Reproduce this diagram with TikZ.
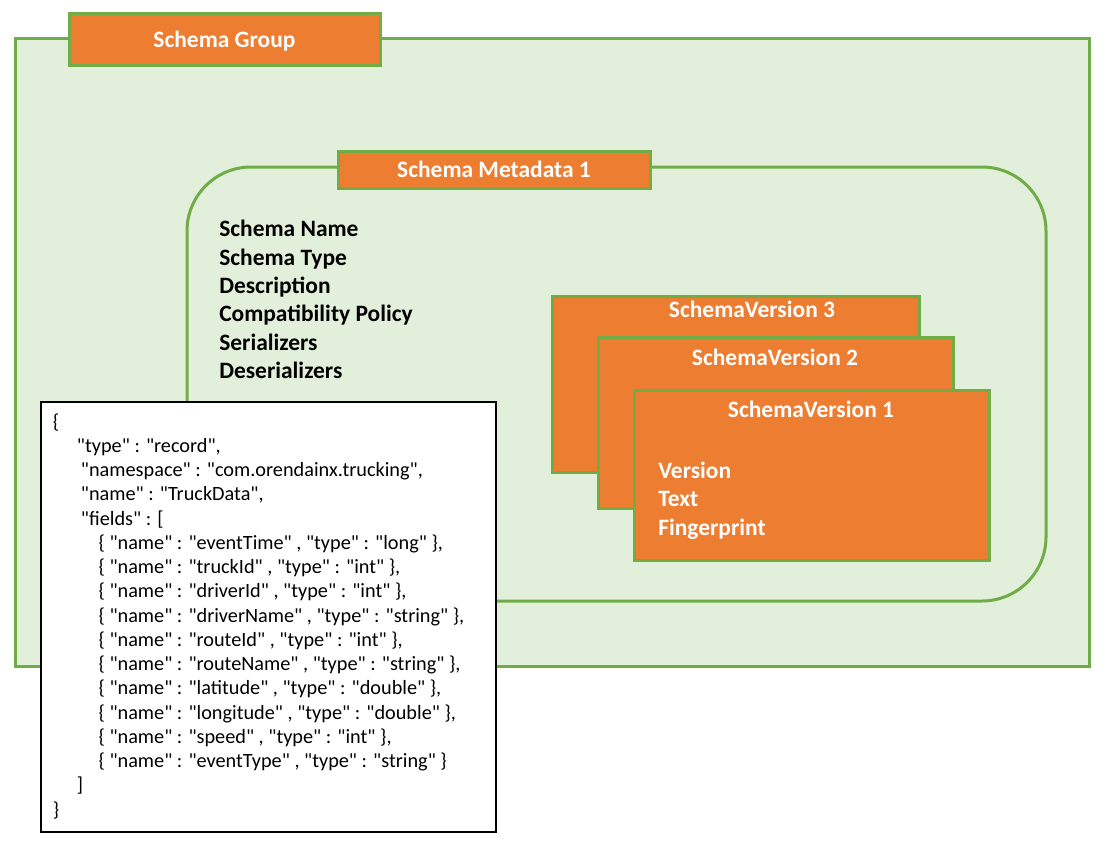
\documentclass[tikz,border=0pt]{standalone}
\usepackage{fontspec}
\setmainfont{Carlito}[Ligatures=TeXOff]
\definecolor{og}{HTML}{ED7D31}
\definecolor{gr}{HTML}{70AD47}
\definecolor{lg}{HTML}{E2EFDA}
\begin{document}
\begin{tikzpicture}[x=0.75pt,y=-0.75pt,
  panel/.style={draw=gr, fill=lg, line width=2.25pt, inner sep=0pt, outer sep=0pt},
  hdr/.style={draw=gr, fill=og, line width=2.25pt, text=white, inner sep=0pt, outer sep=0pt,
    font=\bfseries\fontsize{17.6}{20}\selectfont, text height=11.3pt, text depth=0pt},
  ver/.style={draw=gr, fill=og, line width=2.25pt, inner sep=0pt, outer sep=0pt},
  vtitle/.style={anchor=base, inner sep=0pt, text=white, font=\bfseries\fontsize{17.6}{20}\selectfont},
  item/.style={anchor=base west, inner sep=0pt, font=\bfseries\fontsize{17.6}{20}\selectfont},
  jsonbox/.style={draw=black, fill=white, line width=1.1pt, inner sep=0pt, outer sep=0pt},
  jl/.style={anchor=base west, inner sep=0pt, font=\fontsize{15.2}{18}\selectfont}]
\useasboundingbox (0,0) rectangle (1105,849);
% schema group
\node[panel, minimum width=1074*0.75pt, minimum height=627*0.75pt] (group) at (552,352.5) {};
\node[hdr, minimum width=311*0.75pt, minimum height=52*0.75pt] (grouphdr) at (224.5,40) {Schema Group};
% schema metadata
\node[panel, rounded corners=48pt, minimum width=859*0.75pt, minimum height=434*0.75pt] (meta) at (616.5,384) {};
\node[hdr, minimum width=312*0.75pt, minimum height=37*0.75pt] (metahdr) at (494,169.5) {Schema Metadata 1};
\node[item, text=black] (m1) at (219,236.7) {Schema Name};
\node[item, text=black] (m2) at (219,265.1) {Schema Type};
\node[item, text=black] (m3) at (219,293.5) {Description};
\node[item, text=black] (m4) at (219,321.9) {Compatibility Policy};
\node[item, text=black] (m5) at (219,350.3) {Serializers};
\node[item, text=black] (m6) at (219,378.7) {Deserializers};
% schema versions
\node[ver, minimum width=367*0.75pt, minimum height=176*0.75pt] (sv3) at (735.5,384) {};
\node[vtitle] (sv3t) at (752,317) {SchemaVersion 3};
\node[ver, minimum width=355*0.75pt, minimum height=171*0.75pt] (sv2) at (775.5,422.5) {};
\node[vtitle] (sv2t) at (775,365) {SchemaVersion 2};
\node[ver, minimum width=355*0.75pt, minimum height=170*0.75pt] (sv1) at (811.5,475) {};
\node[vtitle] (sv1t) at (811,417) {SchemaVersion 1};
\node[item, text=white] (v1) at (658,478) {Version};
\node[item, text=white] (v2) at (658,506.5) {Text};
\node[item, text=white] (v3) at (658,535) {Fingerprint};
% json
\node[jsonbox, minimum width=455*0.75pt, minimum height=430*0.75pt] (json) at (268.5,617) {};
\node[jl] (j1) at (52.7,428) {\{};
\node[jl] (j2) at (76.7,452.25) {"type" : "record",};
\node[jl] (j3) at (80.7,476.5) {"namespace" : "com.orendainx.trucking",};
\node[jl] (j4) at (80.7,500.75) {"name" : "TruckData",};
\node[jl] (j5) at (80.7,525) {"fields" : [};
\node[jl] (j6) at (98.3,549.25) {\{ "name" : "eventTime" , "type" : "long" \},};
\node[jl] (j7) at (98.3,573.5) {\{ "name" : "truckId" , "type" : "int" \},};
\node[jl] (j8) at (98.3,597.75) {\{ "name" : "driverId" , "type" : "int" \},};
\node[jl] (j9) at (98.3,622) {\{ "name" : "driverName" , "type" : "string" \},};
\node[jl] (j10) at (98.3,646.25) {\{ "name" : "routeId" , "type" : "int" \},};
\node[jl] (j11) at (98.3,670.5) {\{ "name" : "routeName" , "type" : "string" \},};
\node[jl] (j12) at (98.3,694.75) {\{ "name" : "latitude" , "type" : "double" \},};
\node[jl] (j13) at (98.3,719) {\{ "name" : "longitude" , "type" : "double" \},};
\node[jl] (j14) at (98.3,743.25) {\{ "name" : "speed" , "type" : "int" \},};
\node[jl] (j15) at (98.3,767.5) {\{ "name" : "eventType" , "type" : "string" \}};
\node[jl] (j16) at (76.7,791.75) {]};
\node[jl] (j17) at (52.7,816) {\}};
\end{tikzpicture}
\end{document}
